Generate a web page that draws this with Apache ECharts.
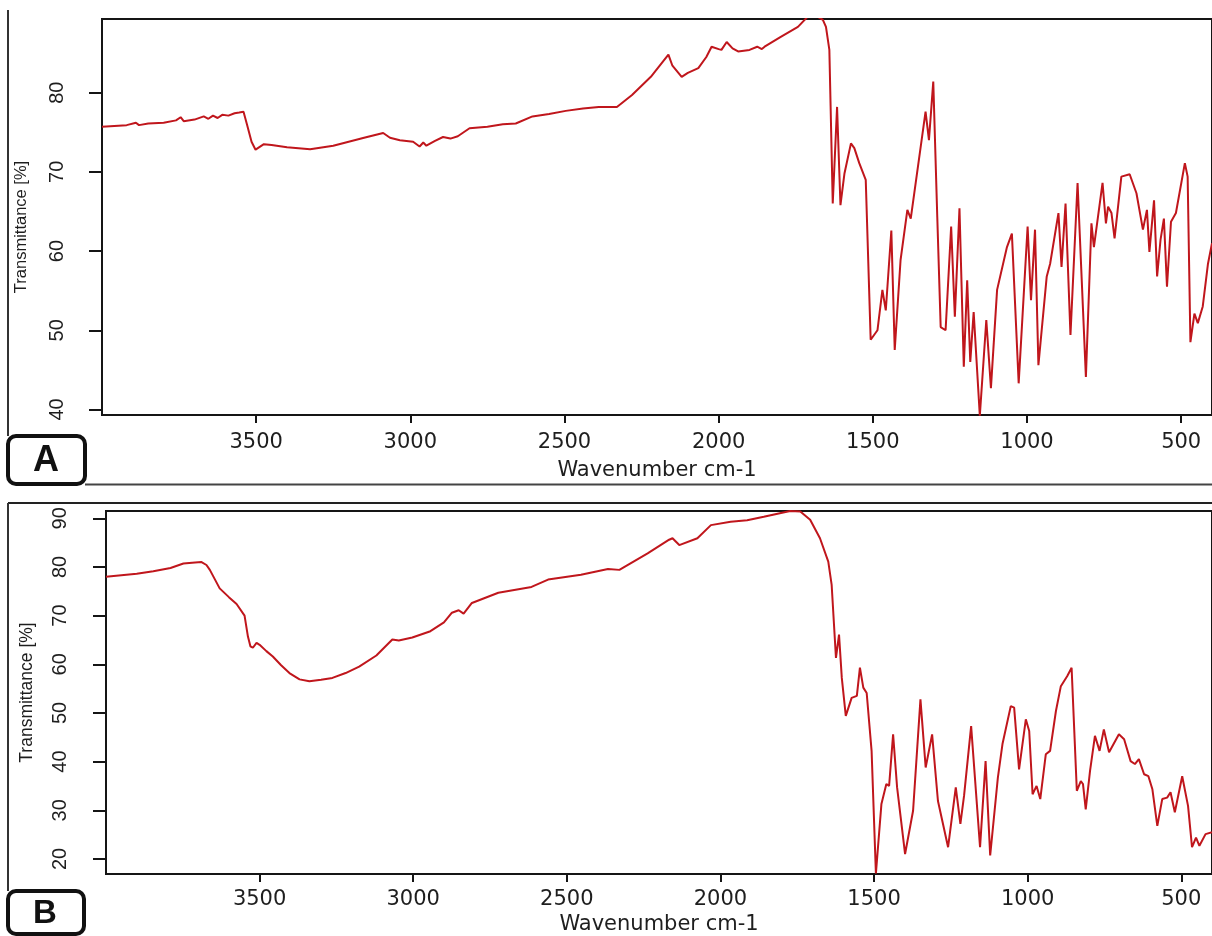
<!DOCTYPE html>
<html>
<head>
<meta charset="utf-8">
<script src="https://cdn.jsdelivr.net/npm/echarts@6/dist/echarts.min.js"></script>
<style>
html,body{margin:0;padding:0;background:#fff;}
#chart{width:1212px;height:936px;}
</style>
</head>
<body>
<div id="chart"></div>
<script>
// ---- Data ----
const xTicks = [500, 1000, 1500, 2000, 2500, 3000, 3500];
const yTicksA = [40, 50, 60, 70, 80];
const yTicksB = [20, 30, 40, 50, 60, 70, 80, 90];

const wavenumberA = [4000,3960,3920,3890,3880,3850,3800,3760,3745,3735,3700,3670,3655,3640,3625,3610,3590,3570,3555,3541,3530,3515,3502,3475,3450,3400,3325,3250,3150,3088,3066,3034,2991,2970,2958,2948,2920,2894,2870,2846,2808,2750,2700,2658,2604,2550,2496,2440,2389,2330,2281,2220,2163,2150,2120,2100,2066,2040,2023,2000,1991,1974,1955,1937,1900,1875,1860,1851,1800,1743,1711,1680,1662,1652,1641,1630,1616,1605,1592,1571,1560,1544,1523,1507,1485,1469,1458,1440,1429,1410,1388,1377,1329,1318,1304,1291,1280,1264,1246,1234,1219,1205,1194,1184,1173,1153,1132,1117,1097,1065,1049,1027,998,987,974,963,936,925,898,888,875,859,836,809,791,783,755,744,737,726,716,694,667,645,624,611,603,588,578,567,556,546,533,517,488,479,470,457,446,430,413,400];
const transmittanceA = [75.7,75.8,75.9,76.2,75.9,76.1,76.2,76.5,76.9,76.4,76.6,77.0,76.7,77.1,76.8,77.2,77.1,77.4,77.5,77.6,76.0,73.8,72.8,73.5,73.4,73.1,72.85,73.3,74.3,74.9,74.3,74.0,73.8,73.2,73.7,73.3,73.9,74.4,74.2,74.5,75.5,75.7,76.0,76.1,77.0,77.3,77.7,78.0,78.2,78.2,79.7,82.0,84.8,83.4,82.0,82.5,83.1,84.5,85.8,85.5,85.4,86.4,85.6,85.2,85.4,85.8,85.5,85.8,87.0,88.3,89.6,89.6,89.2,88.3,85.4,66.0,78.2,65.8,69.8,73.6,73.0,71.1,69.0,48.8,50.0,55.1,52.5,62.6,47.5,58.9,65.2,64.1,77.6,74.0,81.4,64.3,50.4,50.0,63.1,51.7,65.4,45.4,56.3,46.0,52.3,39.2,51.3,42.7,55.1,60.5,62.2,43.3,63.1,53.8,62.7,45.6,56.8,58.4,64.8,58.0,66.0,49.4,68.6,44.1,63.5,60.5,68.6,63.5,65.6,64.8,61.6,69.4,69.7,67.3,62.7,65.2,59.9,66.4,56.8,61.4,64.1,55.5,63.7,64.8,71.1,69.4,48.5,52.1,50.9,53.0,58.4,61.0];

const wavenumberB = [4000,3900,3846,3790,3748,3710,3689,3673,3662,3630,3600,3575,3549,3538,3530,3522,3510,3500,3478,3457,3430,3403,3370,3338,3300,3263,3220,3176,3120,3068,3047,3003,2944,2900,2874,2852,2836,2809,2723,2615,2561,2454,2366,2329,2237,2167,2156,2134,2075,2031,1967,1913,1859,1773,1740,1708,1676,1649,1638,1624,1614,1605,1592,1573,1556,1546,1535,1524,1508,1494,1476,1460,1451,1438,1425,1399,1373,1349,1332,1311,1292,1259,1234,1219,1207,1184,1155,1137,1122,1097,1082,1055,1044,1028,1006,995,984,971,959,941,927,908,892,871,857,840,827,820,811,797,781,766,752,735,703,686,665,651,638,621,607,594,578,562,546,535,521,497,478,465,452,441,421,400];
const transmittanceB = [78.0,78.6,79.1,79.8,80.7,80.9,81.0,80.4,79.4,75.6,73.8,72.4,70.0,65.7,63.7,63.4,64.4,64.0,62.7,61.6,59.8,58.2,56.9,56.5,56.8,57.2,58.2,59.5,61.8,65.1,64.9,65.5,66.8,68.6,70.6,71.1,70.4,72.6,74.7,75.9,77.4,78.4,79.6,79.4,82.8,85.6,85.9,84.5,85.9,88.6,89.3,89.6,90.3,91.5,91.4,89.7,85.9,81.1,76.3,61.3,66.1,57.2,49.4,53.1,53.5,59.3,55.2,54.1,42.2,17.0,31.3,35.4,35.0,45.6,34.7,21.0,29.9,52.8,38.8,45.6,31.9,22.4,34.7,27.2,33.0,47.3,22.4,40.1,20.7,36.7,43.6,51.4,51.1,38.4,48.7,46.3,33.3,35.0,32.3,41.5,42.2,50.4,55.5,57.6,59.3,34.0,36.0,35.4,30.2,38.1,45.3,42.2,46.6,41.9,45.6,44.6,40.1,39.5,40.5,37.4,37.0,34.3,26.8,32.3,32.6,33.7,29.6,37.0,30.9,22.4,24.4,22.7,25.1,25.5];

const seriesA = wavenumberA.map((w, i) => [w, transmittanceA[i]]);
const seriesB = wavenumberB.map((w, i) => [w, transmittanceB[i]]);

// ---- Styles ----
const INK = '#151515';
const LINE_RED = '#c0161c';
const tickFont = 'DejaVu Sans, Liberation Sans, sans-serif';
const yFont = 'Liberation Sans, Arial, sans-serif';
const plain = v => String(v);

function makeX(gridIndex, labelMargin, nameGap) {
  return {
    type: 'value', gridIndex: gridIndex, inverse: true, min: 400, max: 4000,
    axisLine: { show: true, onZero: false, lineStyle: { color: INK, width: 2 } },
    axisTick: { show: true, length: 8, customValues: xTicks, lineStyle: { color: INK, width: 2 } },
    axisLabel: { customValues: xTicks, formatter: plain, margin: labelMargin, fontFamily: tickFont, fontSize: 21, color: '#1e1e1e' },
    splitLine: { show: false },
    name: 'Wavenumber cm-1', nameLocation: 'middle', nameGap: nameGap,
    nameTextStyle: { fontFamily: tickFont, fontSize: 21, color: '#1e1e1e' }
  };
}
function makeY(gridIndex, min, max, ticks, labelMargin, nameGap, nameSize, namePadding) {
  return {
    type: 'value', gridIndex: gridIndex, min: min, max: max,
    axisLine: { show: true, onZero: false, lineStyle: { color: INK, width: 2 } },
    axisTick: { show: true, length: 13, customValues: ticks, lineStyle: { color: INK, width: 2 } },
    axisLabel: { customValues: ticks, formatter: plain, rotate: 90, margin: labelMargin, fontFamily: yFont, fontSize: 20, color: '#1e1e1e' },
    splitLine: { show: false },
    name: 'Transmittance [%]', nameLocation: 'middle', nameGap: nameGap,
    nameTextStyle: { fontFamily: yFont, fontSize: nameSize, color: '#1e1e1e', padding: namePadding }
  };
}

const chart = echarts.init(document.getElementById('chart'), null, { renderer: 'canvas' });
chart.setOption({
  animation: false,
  backgroundColor: '#ffffff',
  grid: [
    { left: 102, top: 19, width: 1115, height: 396, show: true, borderColor: INK, borderWidth: 2, backgroundColor: 'transparent' },
    { left: 106, top: 511, width: 1111, height: 364, show: true, borderColor: INK, borderWidth: 2, backgroundColor: 'transparent' }
  ],
  xAxis: [ makeX(0, 17, 45), makeX(1, 15, 40) ],
  yAxis: [
    makeY(0, 39.3, 89.3, yTicksA, 35, 72, 16.5, [0, 20, 0, 0]),
    makeY(1, 16.9, 91.5, yTicksB, 36, 70, 17.5, 0)
  ],
  series: [
    { type: 'line', xAxisIndex: 0, yAxisIndex: 0, data: seriesA, showSymbol: false, smooth: false,
      lineStyle: { color: LINE_RED, width: 2 }, clip: true },
    { type: 'line', xAxisIndex: 1, yAxisIndex: 1, data: seriesB, showSymbol: false, smooth: false,
      lineStyle: { color: LINE_RED, width: 2 }, clip: true }
  ],
  graphic: [
    // panel A frame
    { type: 'line', shape: { x1: 8, y1: 10, x2: 8, y2: 436 }, style: { stroke: '#333', lineWidth: 2 } },
    { type: 'line', shape: { x1: 85, y1: 484.5, x2: 1212, y2: 484.5 }, style: { stroke: '#444', lineWidth: 2 } },
    { type: 'rect', shape: { x: 8, y: 436, width: 77, height: 48, r: 8 }, style: { fill: '#fff', stroke: '#111', lineWidth: 4 } },
    { type: 'text', x: 46, y: 461, style: { text: 'A', font: 'bold 36px Liberation Sans, Arial, sans-serif', fill: '#111', align: 'center', verticalAlign: 'middle' } },
    // panel B frame
    { type: 'line', shape: { x1: 8, y1: 503, x2: 1212, y2: 503 }, style: { stroke: '#222', lineWidth: 2 } },
    { type: 'line', shape: { x1: 8, y1: 503, x2: 8, y2: 891 }, style: { stroke: '#333', lineWidth: 2 } },
    { type: 'rect', shape: { x: 8, y: 891, width: 76, height: 43, r: 8 }, style: { fill: '#fff', stroke: '#111', lineWidth: 4 } },
    { type: 'text', x: 45, y: 914, style: { text: 'B', font: 'bold 33px Liberation Sans, Arial, sans-serif', fill: '#111', align: 'center', verticalAlign: 'middle' } }
  ]
});
</script>
</body>
</html>
